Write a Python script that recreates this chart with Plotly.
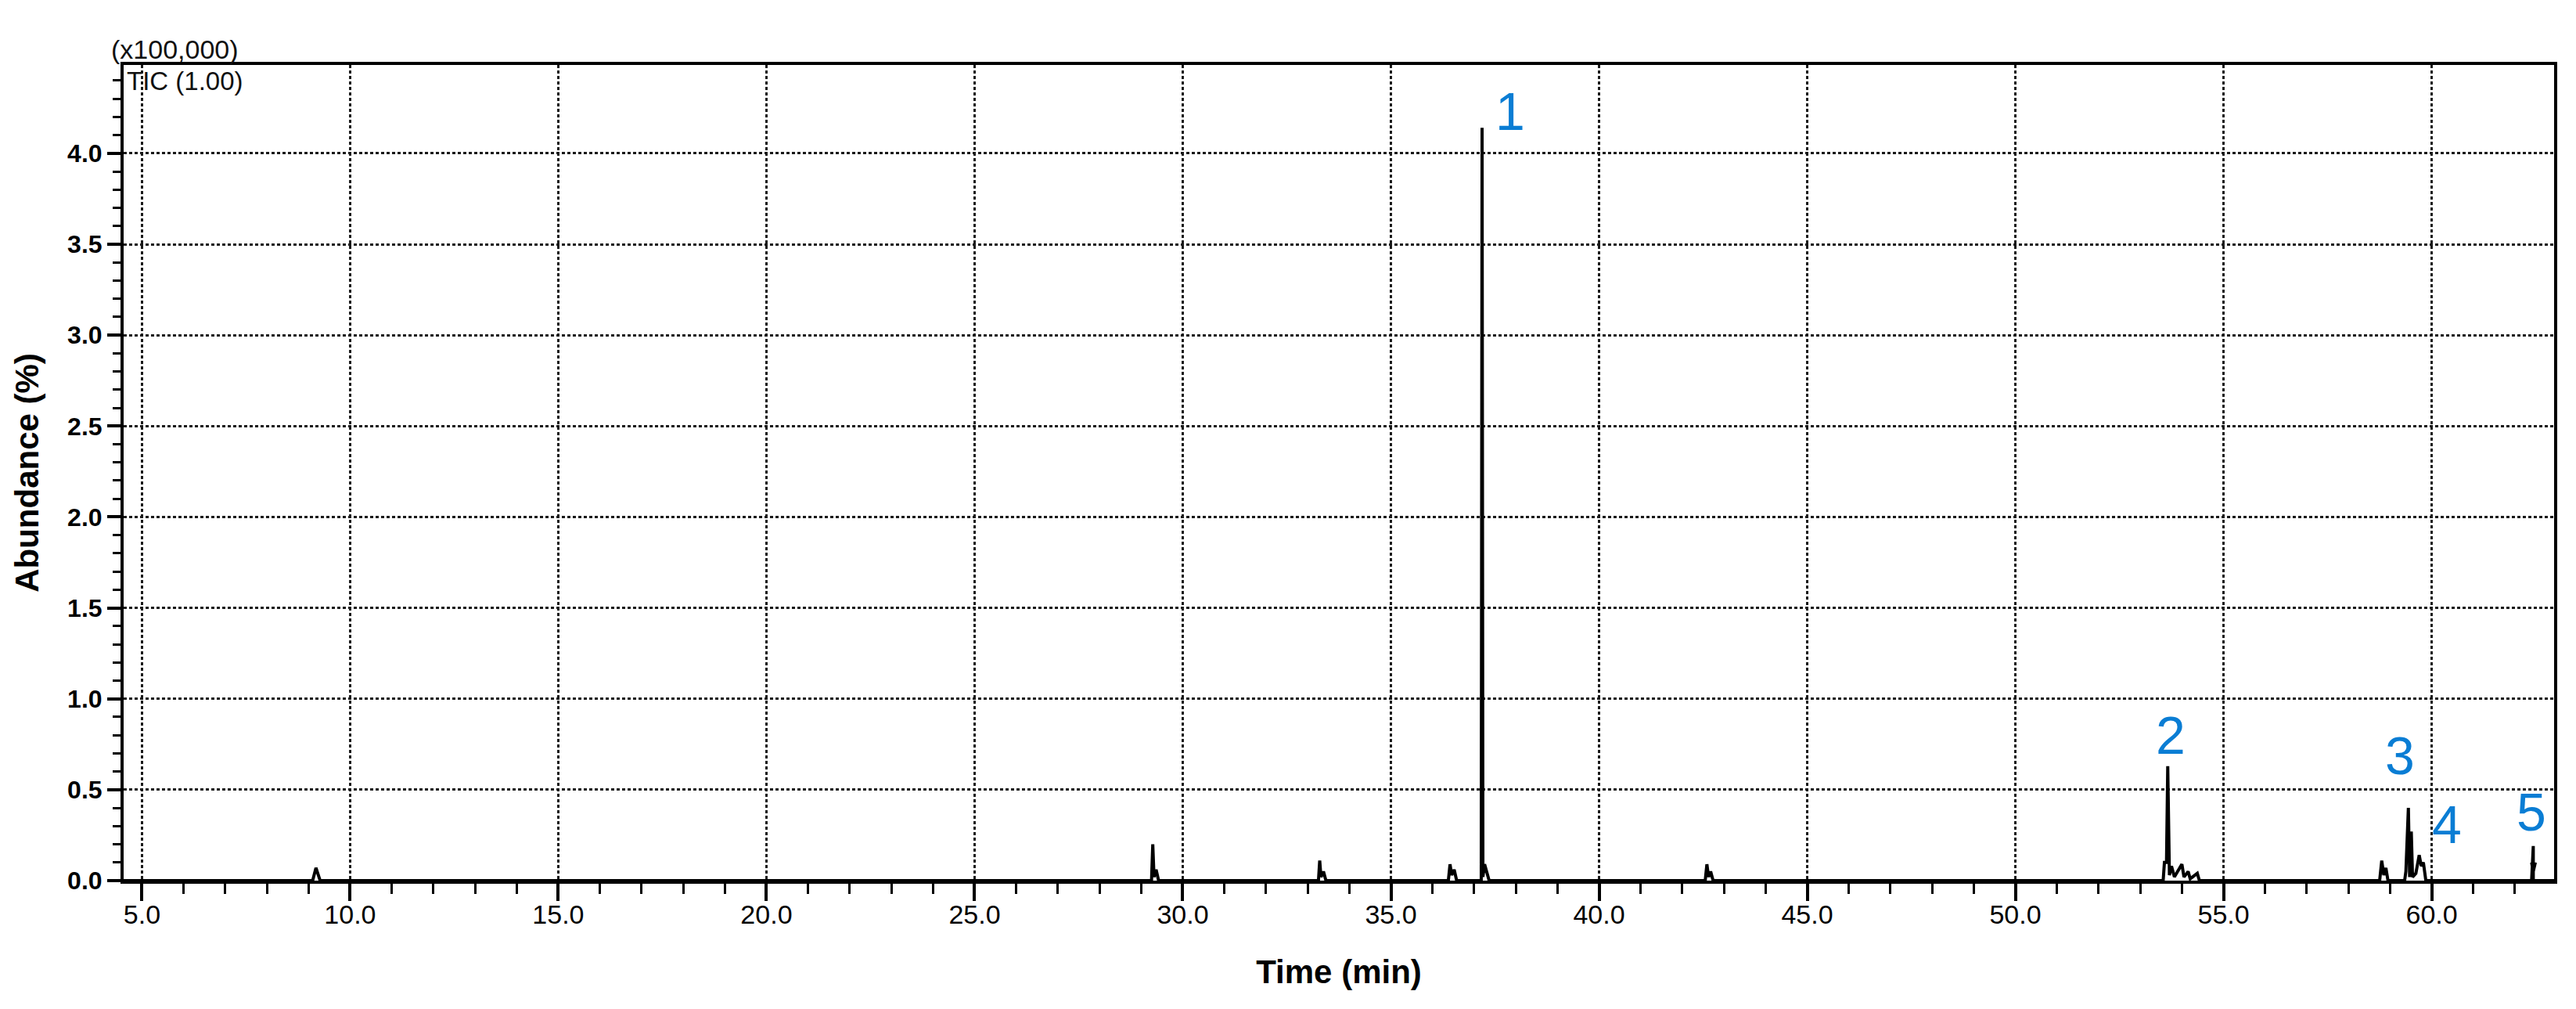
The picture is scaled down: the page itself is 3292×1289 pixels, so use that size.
"""GC-MS total ion chromatogram (TIC) with numbered peaks."""
import plotly.graph_objects as go

# retention time (min) and abundance (x100,000)
time_min = [
    4.56, 9.10, 9.18, 9.28,
    29.25, 29.28, 29.31, 29.36, 29.42,
    33.26, 33.29, 33.32, 33.38, 33.44,
    36.38, 36.42, 36.46, 36.52, 36.58,
    37.17, 37.19, 37.21, 37.25, 37.30, 37.36,
    42.55, 42.59, 42.63, 42.68, 42.74,
    53.55, 53.58, 53.63, 53.66, 53.70, 53.75, 53.82, 54.00, 54.05,
    54.15, 54.20, 54.37, 54.42,
    58.75, 58.80, 58.85, 58.90, 58.95,
    59.35, 59.38, 59.44, 59.47, 59.51, 59.54, 59.62, 59.70, 59.75,
    59.80, 59.86,
    62.40, 62.44, 62.44, 62.40, 62.44, 62.49, 62.44, 62.44, 62.94,
]
abundance = [
    0.0, 0.0, 0.07, 0.0,
    0.0, 0.20, 0.02, 0.06, 0.0,
    0.0, 0.11, 0.02, 0.05, 0.0,
    0.0, 0.09, 0.03, 0.06, 0.0,
    0.0, 4.14, 0.02, 0.09, 0.05, 0.0,
    0.0, 0.09, 0.02, 0.05, 0.0,
    0.0, 0.10, 0.10, 0.63, 0.03, 0.08, 0.02, 0.09, 0.02,
    0.05, 0.01, 0.04, 0.0,
    0.0, 0.11, 0.03, 0.07, 0.0,
    0.0, 0.05, 0.40, 0.02, 0.27, 0.02, 0.04, 0.14, 0.08,
    0.10, 0.0,
    0.0, 0.19, 0.05, 0.10, 0.05, 0.10, 0.05, 0.0, 0.0,
]

peak_labels = ["1", "2", "3", "4", "5"]
label_time = [37.87, 53.73, 59.24, 60.37, 62.40]
label_abundance = [4.23, 0.80, 0.69, 0.31, 0.38]

_LABEL_BLUE = "#0a7dd4"
_SANS = "Liberation Sans, Arial, sans-serif"

fig = go.Figure()
fig.add_trace(
    go.Scatter(
        x=time_min,
        y=abundance,
        mode="lines",
        line=dict(color="black", width=4),
        showlegend=False,
        hoverinfo="skip",
    )
)

for text, x, y in zip(peak_labels, label_time, label_abundance):
    fig.add_annotation(
        x=x, y=y, text=text, showarrow=False,
        font=dict(family=_SANS, size=68, color=_LABEL_BLUE),
    )

fig.add_annotation(
    xref="paper", yref="paper", x=-0.0058, y=1.019,
    xanchor="left", yanchor="middle", showarrow=False,
    text="(x100,000)", font=dict(family=_SANS, size=34, color="#111"),
)
fig.add_annotation(
    xref="paper", yref="paper", x=0.0006, y=0.980,
    xanchor="left", yanchor="middle", showarrow=False,
    text="TIC (1.00)", font=dict(family=_SANS, size=33, color="#111"),
)

_axis_common = dict(
    showline=True,
    linecolor="black",
    linewidth=4,
    mirror=True,
    showgrid=True,
    gridcolor="#1a1a1a",
    gridwidth=3,
    griddash="4px,3px",
    zeroline=False,
    ticks="outside",
    tickcolor="black",
    tickwidth=4,
)

fig.update_xaxes(
    range=[4.56, 62.94],
    tick0=5, dtick=5, tickformat=".1f",
    ticklen=22,
    ticklabelstandoff=-12,
    tickfont=dict(family=_SANS, size=34, color="black"),
    minor=dict(dtick=1, ticks="outside", ticklen=13, tickwidth=3,
               tickcolor="black", showgrid=False),
    title=dict(text="<b>Time (min)</b>", standoff=42,
               font=dict(family=_SANS, size=42, color="black")),
    **_axis_common,
)
fig.update_yaxes(
    range=[0, 4.486],
    tick0=0, dtick=0.5, tickformat=".1f",
    ticklen=17,
    tickfont=dict(family=_SANS, size=32, color="black", weight="bold"),
    minor=dict(dtick=0.1, ticks="outside", ticklen=10, tickwidth=3,
               tickcolor="black", showgrid=False),
    title=dict(text="<b>Abundance (%)</b>", standoff=24,
               font=dict(family=_SANS, size=42, color="black")),
    **_axis_common,
)

fig.update_layout(
    width=3292,
    height=1289,
    margin=dict(l=150, r=36, t=75, b=172, autoexpand=False),
    plot_bgcolor="white",
    paper_bgcolor="white",
    showlegend=False,
)

fig.write_html("out.html")
